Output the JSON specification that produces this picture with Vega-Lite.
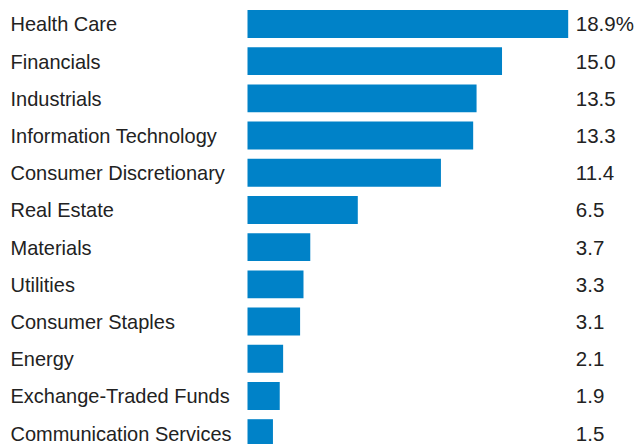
{
  "$schema": "https://vega.github.io/schema/vega-lite/v6.json",
  "width": 373.3,
  "height": 446.4,
  "autosize": "none",
  "padding": {"left": 247.5, "top": 5.35, "right": 20, "bottom": 0},
  "data": {"values": [
    {"sector": "Health Care", "value": 18.9, "label": "18.9%"},
    {"sector": "Financials", "value": 15.0, "label": "15.0"},
    {"sector": "Industrials", "value": 13.5, "label": "13.5"},
    {"sector": "Information Technology", "value": 13.3, "label": "13.3"},
    {"sector": "Consumer Discretionary", "value": 11.4, "label": "11.4"},
    {"sector": "Real Estate", "value": 6.5, "label": "6.5"},
    {"sector": "Materials", "value": 3.7, "label": "3.7"},
    {"sector": "Utilities", "value": 3.3, "label": "3.3"},
    {"sector": "Consumer Staples", "value": 3.1, "label": "3.1"},
    {"sector": "Energy", "value": 2.1, "label": "2.1"},
    {"sector": "Exchange-Traded Funds", "value": 1.9, "label": "1.9"},
    {"sector": "Communication Services", "value": 1.5, "label": "1.5"}
  ]},
  "config": {"view": {"stroke": null}, "font": "Liberation Sans"},
  "encoding": {
    "y": {
      "field": "sector", "type": "nominal", "sort": null,
      "scale": {"paddingInner": 0.25, "paddingOuter": 0.125},
      "axis": {
        "title": null, "ticks": false, "tickSize": 0, "domain": false,
        "labelAlign": "left", "labelPadding": 237.5, "labelLimit": 0, "labelOffset": 1.5,
        "labelFontSize": 20, "labelColor": "#222222", "labelFont": "Liberation Sans"
      }
    }
  },
  "layer": [
    {
      "mark": {"type": "bar", "color": "#0082C8"},
      "encoding": {
        "x": {"field": "value", "type": "quantitative", "scale": {"domain": [0, 22], "nice": false}, "axis": null}
      }
    },
    {
      "mark": {"type": "text", "align": "left", "baseline": "middle", "dy": 1.5, "fontSize": 20.5, "color": "#222222", "font": "Liberation Sans"},
      "encoding": {
        "x": {"datum": 19.35, "type": "quantitative"},
        "text": {"field": "label"}
      }
    }
  ]
}
